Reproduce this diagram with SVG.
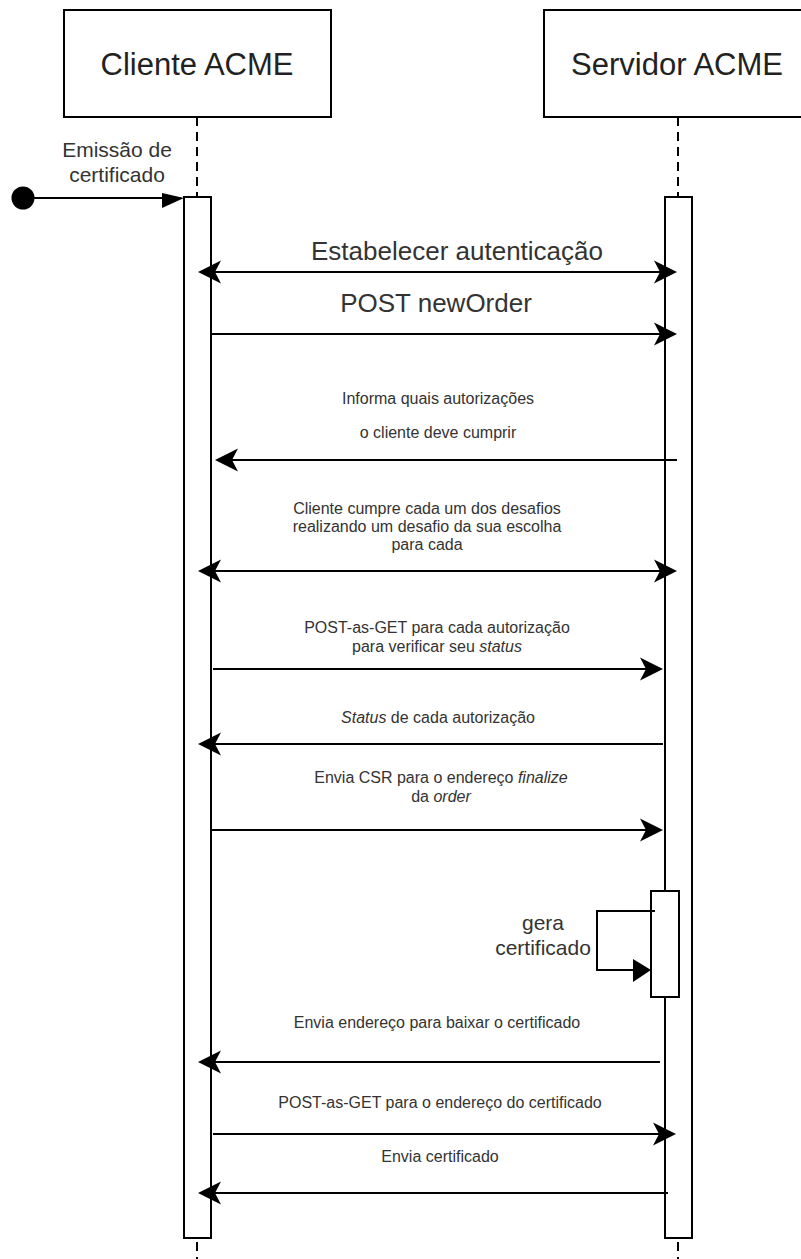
<svg xmlns="http://www.w3.org/2000/svg" width="801" height="1259" viewBox="0 0 801 1259">
<defs>
<style>
text{font-family:"Liberation Sans",Arial,Helvetica,sans-serif;fill:#333;text-anchor:middle}
.title{font-size:31px;fill:#222}
.big{font-size:26px}
.lbl{font-size:16px}
.mid{font-size:21px}
.box{fill:#fff;stroke:#000;stroke-width:2}
.life{stroke:#000;stroke-width:2;stroke-dasharray:9 6;fill:none}
.msg{stroke:#000;stroke-width:2;fill:none}
.i{font-style:italic}
</style>
<marker id="arr" markerUnits="userSpaceOnUse" markerWidth="26" markerHeight="26" refX="20" refY="12" orient="auto-start-reverse" viewBox="0 0 26 26"><path d="M23,12 L0,0.5 L6,12 L0,23.5 Z" fill="#000"/></marker>
</defs>
<g id="lifelines">
<line class="life" x1="197" y1="117" x2="197" y2="1259"/>
<line class="life" x1="678" y1="117" x2="678" y2="1259"/>
</g>
<g id="cliente">
<rect class="box" x="64" y="10" width="267" height="107"/>
<text class="title" x="197" y="75">Cliente ACME</text>
</g>
<g id="servidor">
<rect class="box" x="544" y="10" width="268" height="107"/>
<text class="title" x="677" y="75">Servidor ACME</text>
</g>
<g id="ativacao-cliente">
<rect class="box" x="184" y="197" width="27" height="1041"/>
</g>
<g id="ativacao-servidor">
<rect class="box" x="665" y="197" width="27" height="1041"/>
</g>
<g id="ativacao-gera">
<rect class="box" x="651" y="891" width="28" height="106"/>
</g>
<g id="inicio">
<circle cx="23" cy="198" r="11.5" fill="#000"/>
<text class="mid" x="117" y="157">Emissão de</text>
<text class="mid" x="117" y="182">certificado</text>
</g>
<g id="connectors">
<line class="msg" x1="23" y1="198" x2="165" y2="198"/>
<polygon points="162,193 184,198 162,208" fill="#000"/>
<line class="msg" x1="201" y1="272" x2="674" y2="272" marker-start="url(#arr)" marker-end="url(#arr)"/>
<line class="msg" x1="211" y1="334" x2="674" y2="334" marker-end="url(#arr)"/>
<line class="msg" x1="677" y1="460" x2="218" y2="460" marker-end="url(#arr)"/>
<line class="msg" x1="201" y1="571" x2="674" y2="571" marker-start="url(#arr)" marker-end="url(#arr)"/>
<line class="msg" x1="213" y1="669" x2="660" y2="669" marker-end="url(#arr)"/>
<line class="msg" x1="663" y1="744" x2="201" y2="744" marker-end="url(#arr)"/>
<line class="msg" x1="211" y1="830" x2="660" y2="830" marker-end="url(#arr)"/>
<polyline class="msg" points="655,911 597,911 597,970 636,970"/>
<polygon points="651,970 633,959 633,982" fill="#000"/>
<line class="msg" x1="660" y1="1062" x2="201" y2="1062" marker-end="url(#arr)"/>
<line class="msg" x1="213" y1="1134" x2="673" y2="1134" marker-end="url(#arr)"/>
<line class="msg" x1="668" y1="1193" x2="201" y2="1193" marker-end="url(#arr)"/>
</g>
<g id="labels">
<text class="big" x="457" y="260">Estabelecer autenticação</text>
<text class="big" x="436" y="312">POST newOrder</text>
<text class="lbl" x="438" y="404">Informa quais autorizações</text>
<text class="lbl" x="438" y="438">o cliente deve cumprir</text>
<text class="lbl" x="427" y="514">Cliente cumpre cada um dos desafios</text>
<text class="lbl" x="427" y="532">realizando um desafio da sua escolha</text>
<text class="lbl" x="427" y="550">para cada</text>
<text class="lbl" x="437" y="633">POST-as-GET para cada autorização</text>
<text class="lbl" x="437" y="652">para verificar seu <tspan class="i">status</tspan></text>
<text class="lbl" x="438" y="723"><tspan class="i">Status</tspan> de cada autorização</text>
<text class="lbl" x="441" y="783">Envia CSR para o endereço <tspan class="i">finalize</tspan></text>
<text class="lbl" x="441" y="802">da <tspan class="i">order</tspan></text>
<text class="mid" x="543" y="930">gera</text>
<text class="mid" x="543" y="955">certificado</text>
<text class="lbl" x="437" y="1028">Envia endereço para baixar o certificado</text>
<text class="lbl" x="440" y="1108">POST-as-GET para o endereço do certificado</text>
<text class="lbl" x="440" y="1162">Envia certificado</text>
</g>
</svg>
